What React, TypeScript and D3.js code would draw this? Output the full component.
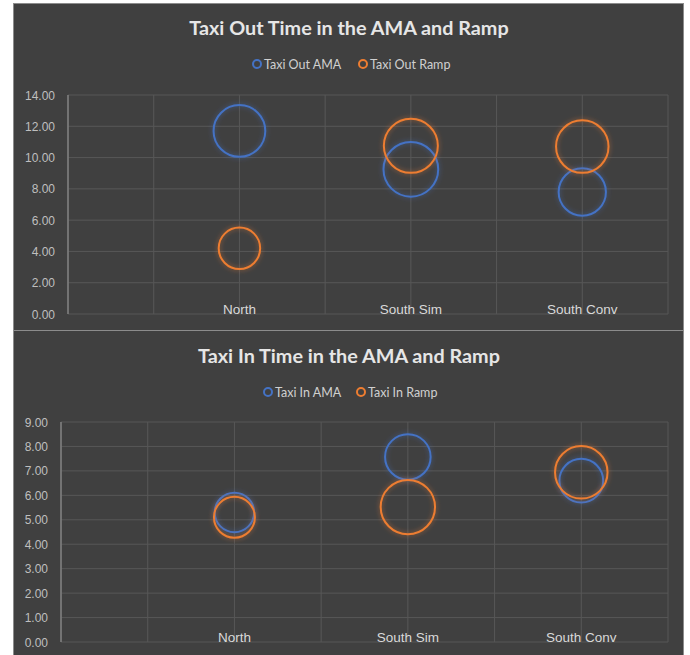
import React from "react";
import * as d3 from "d3";

const categories = ["North", "South Sim", "South Conv"];
const categoryX = [1, 2, 3];

// Taxi out (minutes) and bubble sizes
const taxiOutAma = [11.7, 9.25, 7.8];
const taxiOutRamp = [4.2, 10.75, 10.7];
const taxiOutAmaSize = [6.7, 7.5, 5.6];
const taxiOutRampSize = [4.3, 7.3, 6.9];

// Taxi in (minutes) and bubble sizes
const taxiInAma = [5.3, 7.57, 6.6];
const taxiInRamp = [5.1, 5.52, 6.94];
const taxiInAmaSize = [3.9, 5.2, 4.8];
const taxiInRampSize = [4.2, 7.4, 6.9];

const outTicks = [0, 2, 4, 6, 8, 10, 12, 14];
const inTicks = [0, 1, 2, 3, 4, 5, 6, 7, 8, 9];
const xGridTicks = [0, 0.5, 1, 1.5, 2, 2.5, 3, 3.5];

const BLUE = "#4472c4";
const ORANGE = "#ed7d31";
const BG = "#404040";
const GRID = "#575757";

interface Series {
  name: string;
  color: string;
  values: number[];
  sizes: number[];
}

interface PanelProps {
  id: string;
  top: number;
  height: number;
  title: string;
  titleY: number;
  legendY: number;
  legendX: number[];
  series: Series[];
  yTicks: number[];
  plotLeft: number;
  plotTop: number;
  plotBottom: number;
}

function BubblePanel(p: PanelProps) {
  const x = d3.scaleLinear().domain([0, 3.5]).range([p.plotLeft, 668]);
  const yMax = p.yTicks[p.yTicks.length - 1];
  const y = d3.scaleLinear().domain([0, yMax]).range([p.plotBottom, p.plotTop]);
  const r = d3.scaleSqrt().domain([0, 10]).range([0, 31.6]);

  return (
    <g>
      <rect x={13.5} y={p.top + 0.5} width={670} height={p.height} fill={BG} stroke="#8c8c8c" strokeWidth={1} />
      <text x={349} y={p.titleY} textAnchor="middle" fill="#e6e6e6" fontFamily="Lato, sans-serif" fontWeight="bold" fontSize={19.8}>
        {p.title}
      </text>
      {p.series.map((s, i) => (
        <g key={s.name} transform={`translate(${p.legendX[i]},${p.legendY})`}>
          <circle cx={0} cy={0} r={4} fill="none" stroke={s.color} strokeWidth={2} />
          <text x={7} y={4.5} fill="#d0d0d0" fontFamily="Lato, sans-serif" fontSize={12.5}>
            {s.name}
          </text>
        </g>
      ))}
      {/* grid */}
      {p.yTicks.map((t) => (
        <line key={`h${t}`} x1={p.plotLeft} x2={668} y1={y(t)} y2={y(t)} stroke={GRID} strokeWidth={1} />
      ))}
      {xGridTicks.map((t) => (
        <line key={`v${t}`} x1={x(t)} x2={x(t)} y1={p.plotTop} y2={p.plotBottom} stroke={GRID} strokeWidth={1} />
      ))}
      <line x1={p.plotLeft} x2={p.plotLeft} y1={p.plotTop} y2={p.plotBottom} stroke="#808080" strokeWidth={1.5} />
      {p.yTicks.map((t) => (
        <text key={`yl${t}`} x={p.plotLeft - 13} y={y(t) + 4.5} textAnchor="end" fill="#bfbfbf" fontFamily="Liberation Sans, Arial, sans-serif" fontSize={12}>
          {d3.format(".2f")(t)}
        </text>
      ))}
      {categories.map((c, i) => (
        <text key={c} x={x(categoryX[i])} y={p.plotBottom} textAnchor="middle" fill="#d9d9d9" fontFamily="Liberation Sans, Arial, sans-serif" fontSize={13.5}>
          {c}
        </text>
      ))}
      {p.series.map((s) => (
        <g key={`b${s.name}`}>
          {s.values.map((v, i) => (
            <circle
              key={i}
              cx={x(categoryX[i])}
              cy={y(v)}
              r={r(s.sizes[i])}
              fill="none"
              stroke={s.color}
              strokeWidth={2}
              filter={`url(#glow-${p.id})`}
            />
          ))}
        </g>
      ))}
      <defs>
        <filter id={`glow-${p.id}`} x="-30%" y="-30%" width="160%" height="160%">
          <feGaussianBlur in="SourceGraphic" stdDeviation={2.5} result="blur" />
          <feComponentTransfer in="blur" result="soft">
            <feFuncA type="linear" slope={0.6} />
          </feComponentTransfer>
          <feMerge>
            <feMergeNode in="soft" />
            <feMergeNode in="SourceGraphic" />
          </feMerge>
        </filter>
      </defs>
    </g>
  );
}

export default function App() {
  return (
    <svg width={690} height={655} style={{ position: "absolute", left: 0, top: 0, background: "#fff" }}>
      <BubblePanel
        id="out"
        top={3}
        height={327}
        title="Taxi Out Time in the AMA and Ramp"
        titleY={35}
        legendY={64}
        legendX={[257, 363]}
        series={[
          { name: "Taxi Out AMA", color: BLUE, values: taxiOutAma, sizes: taxiOutAmaSize },
          { name: "Taxi Out Ramp", color: ORANGE, values: taxiOutRamp, sizes: taxiOutRampSize },
        ]}
        yTicks={outTicks}
        plotLeft={68}
        plotTop={95}
        plotBottom={314}
      />
      <BubblePanel
        id="in"
        top={330}
        height={330}
        title="Taxi In Time in the AMA and Ramp"
        titleY={363}
        legendY={392}
        legendX={[268, 361]}
        series={[
          { name: "Taxi In AMA", color: BLUE, values: taxiInAma, sizes: taxiInAmaSize },
          { name: "Taxi In Ramp", color: ORANGE, values: taxiInRamp, sizes: taxiInRampSize },
        ]}
        yTicks={inTicks}
        plotLeft={61}
        plotTop={422}
        plotBottom={642}
      />
    </svg>
  );
}
